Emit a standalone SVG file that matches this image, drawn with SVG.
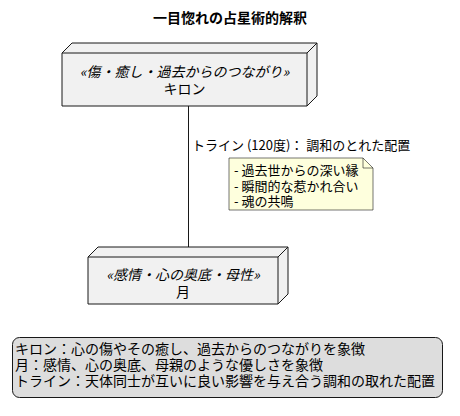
<svg xmlns="http://www.w3.org/2000/svg" width="460" height="416" viewBox="0 0 460 416">
<style>
.t{font-family:"Noto Sans CJK JP","Noto Sans",sans-serif;fill:#000}
.node{fill:#F1F1F1;stroke:#181818;stroke-width:1}
.st{font-size:14px;font-style:italic}
.nm{font-size:14px}
</style>
<rect width="460" height="416" fill="#fff"/>
<text class="t" x="230" y="23" font-size="14" font-weight="bold" text-anchor="middle">一目惚れの占星術的解釈</text>
<g id="edges">
<line x1="188.5" y1="106" x2="188.5" y2="257" stroke="#181818" stroke-width="1"/>
<text class="t" x="192" y="150" font-size="13">トライン (120度)： 調和のとれた配置</text>
</g>
<g id="chiron">
<polygon class="node" points="62,53 72,43 317,43 317,96 307,106 62,106"/>
<polyline points="62,53 307,53 317,43" fill="none" stroke="#181818"/>
<line x1="307" y1="53" x2="307" y2="106" stroke="#181818"/>
<text class="t st" x="184.5" y="77" text-anchor="middle">«傷・癒し・過去からのつながり»</text>
<text class="t nm" x="184.5" y="94" text-anchor="middle">キロン</text>
</g>
<g id="note">
<path d="M229,158 H363 L373,168 V210 H229 Z" fill="#FEFFDD" stroke="#181818" stroke-width="0.6"/>
<path d="M363,158 V168 H373" fill="none" stroke="#181818" stroke-width="0.6"/>
<text class="t" x="234" y="175" font-size="13">- 過去世からの深い縁</text>
<text class="t" x="234" y="190.5" font-size="13">- 瞬間的な惹かれ合い</text>
<text class="t" x="234" y="206" font-size="13">- 魂の共鳴</text>
</g>
<g id="moon">
<polygon class="node" points="88,257 98,247 288,247 288,294 278,304 88,304"/>
<polyline points="88,257 278,257 288,247" fill="none" stroke="#181818"/>
<line x1="278" y1="257" x2="278" y2="304" stroke="#181818"/>
<text class="t st" x="183" y="280" text-anchor="middle">«感情・心の奥底・母性»</text>
<text class="t nm" x="183" y="297" text-anchor="middle">月</text>
</g>
<g id="legend">
<rect x="12.5" y="337.5" width="430" height="60" rx="7" fill="#DDDDDD" stroke="#181818" stroke-width="1"/>
<text class="t" x="15" y="354" font-size="14">キロン：心の傷やその癒し、過去からのつながりを象徴</text>
<text class="t" x="15" y="370" font-size="14">月：感情、心の奥底、母親のような優しさを象徴</text>
<text class="t" x="15" y="386" font-size="14">トライン：天体同士が互いに良い影響を与え合う調和の取れた配置</text>
</g>
</svg>
